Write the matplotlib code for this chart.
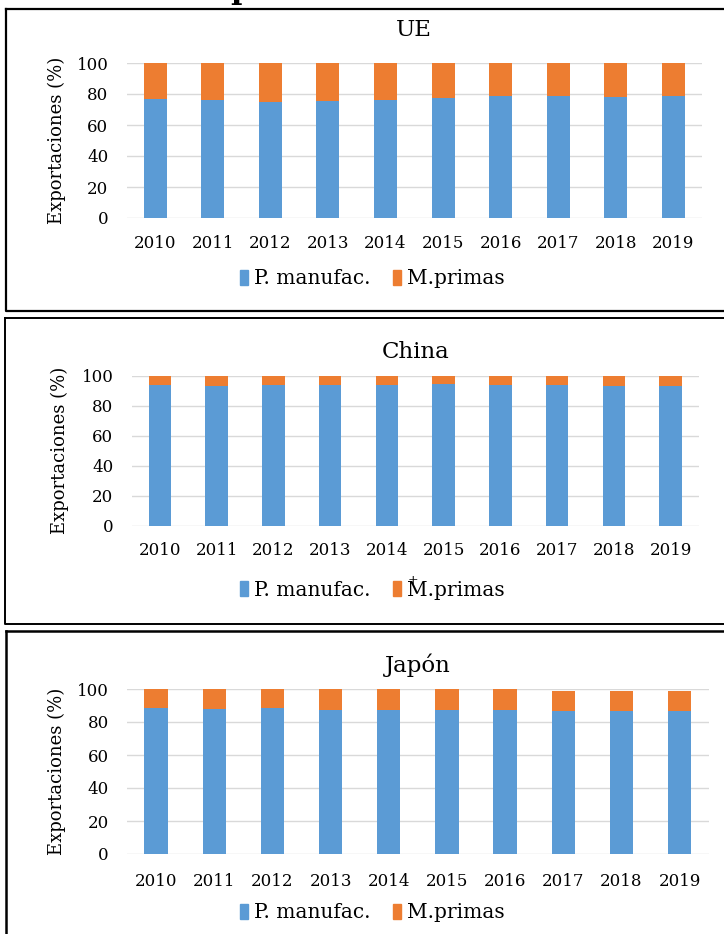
import numpy as np
import matplotlib
matplotlib.use("Agg")
import matplotlib.pyplot as plt
from matplotlib.patches import Patch
from matplotlib.lines import Line2D

plt.rcParams['font.family'] = ['DejaVu Serif']

years = ["2010", "2011", "2012", "2013", "2014", "2015", "2016", "2017", "2018", "2019"]

# P. manufac. (bottom) and M.primas (top), %
ue_manuf = [76.8, 76.4, 75.1, 75.5, 76.4, 77.7, 79.0, 79.0, 78.1, 79.0]
ue_prim = [23.2, 23.6, 24.9, 24.5, 23.6, 22.3, 21.0, 21.0, 21.9, 21.0]

china_manuf = [93.6, 93.1, 93.6, 93.6, 93.6, 94.4, 93.6, 93.6, 93.1, 93.1]
china_prim = [6.4, 6.9, 6.4, 6.4, 6.4, 5.6, 6.4, 6.4, 6.9, 6.9]

japon_manuf = [88.7, 87.9, 88.7, 87.5, 87.5, 87.5, 87.5, 86.7, 86.7, 86.7]
japon_prim = [11.1, 11.9, 11.1, 12.3, 12.3, 12.3, 12.3, 12.3, 12.3, 12.3]

W, H = 724, 934
fig = plt.figure(figsize=(W / 100, H / 100), dpi=100)

BLUE = "#5B9BD5"
ORANGE = "#ED7D31"


def fx(px):
    return px / W


def fy(py):
    return 1 - py / H


def panel(title, manuf, prim, ax_box, title_y, years_pad, leg_y, ylab_x, border, plus=False):
    left, right, top, bottom = ax_box
    ax = fig.add_axes([fx(left), fy(bottom), fx(right) - fx(left), fy(top) - fy(bottom)])
    x = np.arange(len(years))
    ax.bar(x, manuf, width=0.4, color=BLUE, zorder=3)
    ax.bar(x, prim, width=0.4, bottom=manuf, color=ORANGE, zorder=3)
    ax.set_xlim(-0.5, len(years) - 0.5)
    ax.set_ylim(0, 100)
    ax.set_yticks(range(0, 101, 20))
    ax.set_xticks(x)
    ax.set_xticklabels(years)
    ax.tick_params(axis='both', length=0, labelsize=12)
    ax.tick_params(axis='x', pad=years_pad)
    ax.tick_params(axis='y', pad=13)
    ax.grid(axis='y', color="#D9D9D9", linewidth=1, zorder=0)
    for s in ax.spines.values():
        s.set_visible(False)
    ax.set_axisbelow(True)
    fig.text(fx((left + right) / 2), fy(title_y), title, ha='center', va='center', fontsize=16.5)
    fig.text(fx(ylab_x), fy((top + bottom) / 2), "Exportaciones (%)", rotation=90,
             ha='center', va='center', fontsize=13)
    handles = [Patch(color=BLUE, label="P. manufac."), Patch(color=ORANGE, label="M.primas")]
    fig.legend(handles=handles, loc='center', bbox_to_anchor=(fx(372), fy(leg_y)), ncol=2,
               frameon=False, fontsize=14.5, handlelength=0.4, handleheight=0.7,
               handletextpad=0.3, columnspacing=1.1)
    if plus:
        fig.text(fx(413), fy(581), "+", ha='center', va='center', fontsize=9)
    # panel border (right edge runs off the image)
    bl, bt, bb, lw = border
    fig.add_artist(Line2D([fx(bl), fx(bl), 1.01], [fy(bt), fy(bb), fy(bb)], color='black', lw=lw))
    fig.add_artist(Line2D([fx(bl), 1.01], [fy(bt), fy(bt)], color='black', lw=lw))


panel("UE", ue_manuf, ue_prim, (126.5, 702, 63, 218), 30, 12, 279, 57, (6, 9, 311, 1.6))
panel("China", china_manuf, china_prim, (131.5, 699, 375.7, 525.7), 352, 12, 590, 60,
      (4.5, 318, 624, 1.4), plus=True)
panel("Japón", japon_manuf, japon_prim, (127, 708.7, 689, 854), 665, 14, 913, 57,
      (6, 631, 940, 1.8))

# bottom of the cut-off heading above the first panel
fig.text(fx(241), fy(-2), "p", ha='center', va='baseline', fontsize=22, fontweight='bold')

fig.savefig("out.png", dpi=100)
